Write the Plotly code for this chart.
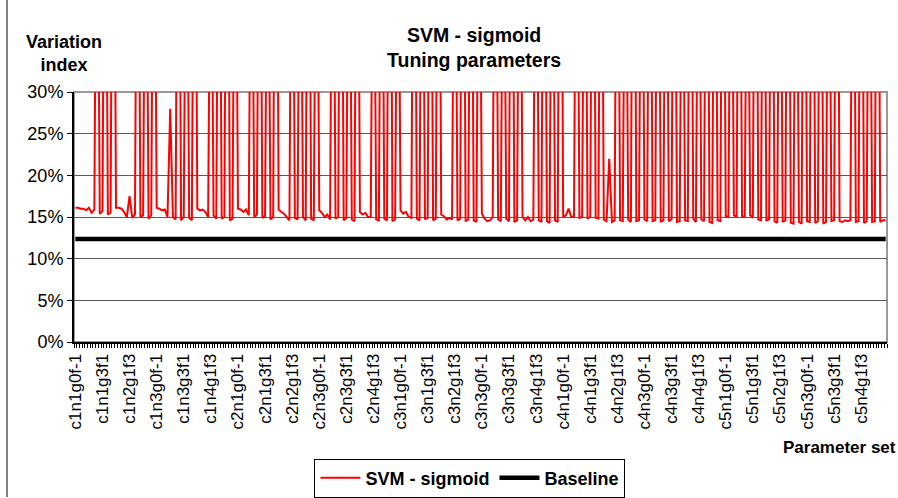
import plotly.graph_objects as go

# Parameter grid (tick labels are built from these)
c_vals = [1, 2, 3, 4, 5]
n_vals = [1, 2, 3, 4]
g_vals = [0, 1, 2, 3, 4]
f_vals = [-1, 1, 3]

categories = [f"c{c}n{n}g{g}f{f}" for c in c_vals for n in n_vals for g in g_vals for f in f_vals]

# Variation index (%) per block of 15 parameter sets (c, n).
# Values above 30% are clipped in the chart; their exact height is estimated.
c1n1 = [16.1, 16.1, 16.0, 16.0, 15.8, 16.1, 15.5, 15.9, 68.0, 15.4, 15.7, 72.0, 15.3, 15.5, 80.0]
c1n2 = [16.1, 16.1, 16.0, 15.6, 15.0, 17.5, 14.9, 15.3, 75.0, 15.0, 15.2, 66.0, 14.8, 15.2, 70.0]
c1n3 = [16.1, 16.0, 15.8, 15.9, 15.0, 28.0, 15.0, 14.7, 82.0, 14.6, 15.0, 64.0, 14.9, 14.6, 77.0]
c1n4 = [16.0, 15.8, 15.9, 15.6, 15.0, 60.0, 15.2, 14.8, 71.0, 14.8, 15.0, 85.0, 14.6, 14.8, 69.0]
c2n1 = [16.0, 15.9, 15.6, 15.9, 15.2, 66.0, 15.0, 15.3, 74.0, 14.9, 15.1, 62.0, 14.7, 15.0, 88.0]
c2n2 = [15.9, 15.6, 15.4, 15.0, 14.6, 73.0, 14.9, 14.7, 65.0, 15.0, 14.6, 79.0, 14.8, 14.6, 67.0]
c2n3 = [15.8, 15.5, 15.0, 15.3, 14.7, 70.0, 14.8, 15.0, 83.0, 14.6, 14.9, 68.0, 14.7, 14.5, 76.0]
c2n4 = [15.6, 15.3, 15.5, 15.0, 15.0, 64.0, 14.7, 14.6, 72.0, 14.8, 14.6, 90.0, 14.5, 14.7, 63.0]
c3n1 = [15.8, 15.4, 15.6, 15.0, 14.9, 78.0, 14.8, 14.6, 69.0, 14.7, 14.9, 75.0, 14.6, 14.8, 81.0]
c3n2 = [15.3, 15.1, 14.7, 14.9, 14.7, 67.0, 14.6, 14.8, 86.0, 14.5, 14.7, 71.0, 14.6, 14.4, 65.0]
c3n3 = [15.4, 14.8, 14.5, 14.6, 15.0, 74.0, 14.7, 14.5, 63.0, 14.8, 14.5, 80.0, 14.4, 14.6, 72.0]
c3n4 = [15.0, 14.6, 15.0, 14.5, 14.7, 69.0, 14.6, 14.4, 77.0, 14.5, 14.3, 66.0, 14.6, 14.4, 84.0]
c4n1 = [15.0, 15.2, 16.0, 15.0, 15.1, 71.0, 14.9, 15.0, 68.0, 14.8, 15.0, 79.0, 14.9, 14.8, 73.0]
c4n2 = [14.7, 14.5, 22.0, 14.4, 14.6, 76.0, 14.6, 14.5, 64.0, 14.7, 14.4, 87.0, 14.5, 14.6, 70.0]
c4n3 = [14.7, 14.5, 73.0, 14.5, 14.6, 80.0, 14.4, 14.6, 67.0, 14.5, 14.7, 75.0, 14.4, 14.5, 62.0]
c4n4 = [14.6, 14.5, 78.0, 14.8, 14.4, 65.0, 14.7, 14.5, 82.0, 14.4, 14.3, 70.0, 14.6, 14.5, 74.0]
c5n1 = [15.1, 15.0, 68.0, 15.2, 15.0, 77.0, 15.1, 15.0, 63.0, 15.2, 14.9, 85.0, 14.7, 14.6, 71.0]
c5n2 = [14.6, 14.7, 74.0, 14.5, 14.3, 69.0, 14.4, 14.6, 80.0, 14.3, 14.2, 66.0, 14.4, 14.2, 77.0]
c5n3 = [14.5, 14.4, 79.0, 14.3, 14.5, 72.0, 14.2, 14.4, 64.0, 14.5, 14.6, 83.0, 14.5, 14.4, 14.6]
c5n4 = [14.5, 14.6, 70.0, 14.4, 14.5, 76.0, 14.3, 14.5, 68.0, 14.4, 14.5, 81.0, 14.4, 14.6, 14.6]

svm_sigmoid = (c1n1 + c1n2 + c1n3 + c1n4 + c2n1 + c2n2 + c2n3 + c2n4 + c3n1 + c3n2 +
               c3n3 + c3n4 + c4n1 + c4n2 + c4n3 + c4n4 + c5n1 + c5n2 + c5n3 + c5n4)

baseline_value = 12.35
baseline = [baseline_value] * len(categories)

label_step = 10
tick_text = [cat if i % label_step == 0 else "" for i, cat in enumerate(categories)]

FONT = "Liberation Sans, Arial, sans-serif"

fig = go.Figure()
fig.add_trace(go.Scatter(x=categories, y=svm_sigmoid, mode="lines", name="<b>SVM - sigmoid</b>",
                         line=dict(color="#FF0000", width=2)))
fig.add_trace(go.Scatter(x=categories, y=baseline, mode="lines", name="<b>Baseline</b>",
                         line=dict(color="#000000", width=4.5)))

fig.update_layout(
    width=898, height=498,
    margin=dict(l=74, r=11, t=92, b=156, autoexpand=False),
    paper_bgcolor="white", plot_bgcolor="white",
    font=dict(family=FONT, size=18, color="black"),
    showlegend=True,
    legend=dict(orientation="h", x=0.487, y=-0.544, xanchor="center", yanchor="middle",
                bordercolor="black", borderwidth=1, bgcolor="white",
                font=dict(family=FONT, size=18, color="black"), itemwidth=40),
    xaxis=dict(type="category", tickmode="array", tickvals=categories, ticktext=tick_text,
               tickangle=-90, tickson="boundaries", ticks="outside", ticklen=4,
               tickcolor="black", tickwidth=1, showgrid=False, showline=True,
               linecolor="black", linewidth=2, tickfont=dict(family=FONT, size=17),
               ticklabelstandoff=3,
               range=[-0.5, len(categories) - 0.5], zeroline=False, automargin=False),
    yaxis=dict(range=[0, 30], dtick=5, ticksuffix="%", ticks="outside", ticklen=5,
               tickcolor="black", showgrid=True, gridcolor="#5a5a5a", gridwidth=1,
               showline=True, linecolor="black", linewidth=2, zeroline=False,
               tickfont=dict(family=FONT, size=18), automargin=False),
    annotations=[
        dict(text="<b>SVM - sigmoid</b><br><b>Tuning parameters</b>", xref="paper", yref="paper",
             x=0.492, y=1.18, xanchor="center", yanchor="middle", showarrow=False,
             font=dict(family=FONT, size=19.5)),
        dict(text="<b>Variation</b><br><b>index</b>", xref="paper", yref="paper",
             x=-0.012, y=1.156, xanchor="center", yanchor="middle", showarrow=False,
             font=dict(family=FONT, size=18)),
        dict(text="<b>Parameter set</b>", xref="paper", yref="paper",
             x=1.013, y=-0.42, xanchor="right", yanchor="middle", showarrow=False,
             font=dict(family=FONT, size=17)),
    ],
    shapes=[
        dict(type="rect", xref="paper", yref="paper", x0=0, x1=1, y0=0, y1=1,
             line=dict(color="#999999", width=2), layer="below"),
        # outer chart-area frame edge on the left
        dict(type="line", xref="paper", yref="paper", x0=-67 / 813, x1=-67 / 813,
             y0=1.368, y1=-0.62, line=dict(color="black", width=1)),
    ],
)

fig.write_html("out.html")
